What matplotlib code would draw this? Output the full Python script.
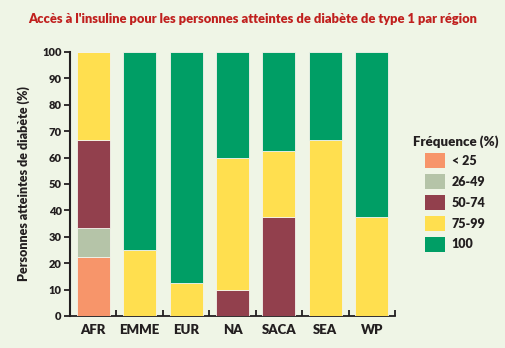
import numpy as np
import matplotlib.pyplot as plt
from matplotlib.patches import Patch

# ============================================================
# DATA
# ============================================================

regions = ["AFR", "EMME", "EUR", "NA", "SACA", "SEA", "WP"]

freq_labels = ["< 25", "26-49", "50-74", "75-99", "100"]

lt25 = [22.2, 0, 0, 0, 0, 0, 0]
f26_49 = [11.1, 0, 0, 0, 0, 0, 0]
f50_74 = [33.3, 0, 0, 10.0, 37.5, 0, 0]
f75_99 = [33.4, 25.0, 12.5, 50.0, 25.0, 66.7, 37.5]
f100 = [0, 75.0, 87.5, 40.0, 37.5, 33.3, 62.5]

colors = ["#F7956A", "#B5C4A8", "#92404D", "#FFDF4F", "#009E65"]

bg = "#EFF5E6"
ink = "#231F20"

# ============================================================
# PLOT
# ============================================================

plt.rcParams["font.family"] = ["Lato", "DejaVu Sans"]

fig = plt.figure(figsize=(5.05, 3.48), dpi=100, facecolor=bg)
ax = fig.add_axes([0.1386, 0.092, 0.6436, 0.7586])
ax.set_facecolor(bg)

x = np.arange(len(regions))
bottom = np.zeros(len(regions))

for vals, col in zip([lt25, f26_49, f50_74, f75_99, f100], colors):
    vals = np.array(vals)
    ax.bar(
        x, vals, 0.71,
        bottom=bottom,
        color=col,
        edgecolor="#F4F4EC",
        linewidth=0.6,
        zorder=3
    )
    bottom += vals

ax.set_xlim(-0.5, 6.5)
ax.set_ylim(0, 100)

ax.set_yticks(range(0, 101, 10))
ax.tick_params(axis="y", direction="out", length=4, width=1.3,
               color=ink, labelsize=8, labelcolor=ink, pad=2)
for lab in ax.get_yticklabels():
    lab.set_fontweight("heavy")

ax.set_xticks(x)
ax.set_xticklabels(regions, fontsize=9.5, fontweight="heavy", color=ink)
ax.tick_params(axis="x", length=0, pad=6)
ax.set_xticks(np.arange(-0.5, 7, 1), minor=True)
ax.tick_params(axis="x", which="minor", direction="in", length=4,
               width=1.3, color=ink)

for s in ["top", "right"]:
    ax.spines[s].set_visible(False)
ax.spines["left"].set_color(ink)
ax.spines["left"].set_linewidth(1.5)
ax.spines["bottom"].set_color(ink)
ax.spines["bottom"].set_linewidth(1.3)

ax.set_ylabel("Personnes atteintes de diabète (%)", fontsize=9,
              fontweight="heavy", color=ink, labelpad=9)

fig.text(0.5, 0.945,
         "Accès à l'insuline pour les personnes atteintes de diabète de type 1 par région",
         ha="center", va="center", fontsize=9.3, fontweight="heavy",
         color="#C0201E")

handles = [Patch(facecolor=c, edgecolor="none") for c in colors]
leg = fig.legend(
    handles, freq_labels,
    loc="upper left",
    bbox_to_anchor=(0.795, 0.645),
    title="Fréquence (%)",
    frameon=False,
    fontsize=9,
    title_fontsize=9.5,
    handlelength=1.6,
    handleheight=1.5,
    labelspacing=0.45,
    handletextpad=0.5
)
leg.get_title().set_fontweight("heavy")
leg.get_title().set_color(ink)
for t in leg.get_texts():
    t.set_fontweight("heavy")
    t.set_color(ink)

fig.savefig("out.png", dpi=100, facecolor=bg)
